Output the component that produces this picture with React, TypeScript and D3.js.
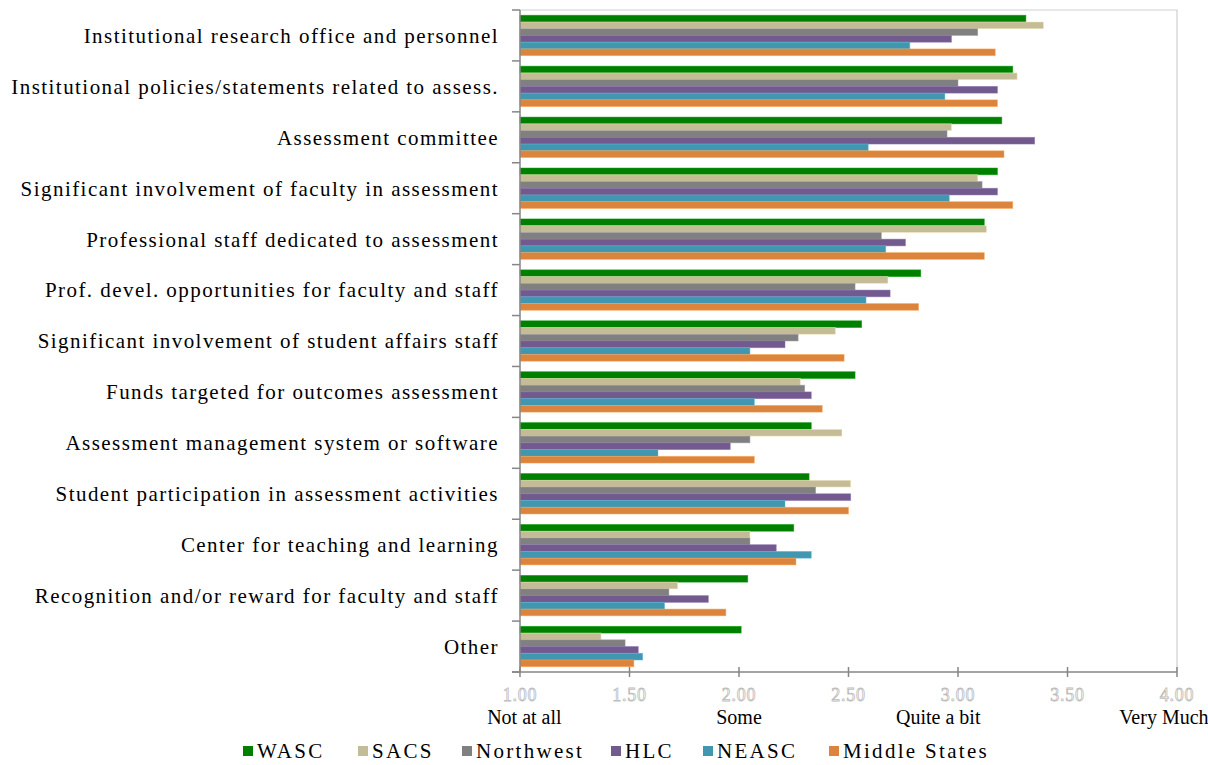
import React, { useEffect, useRef } from "react";
import * as d3 from "d3";

const categories = [
  "Institutional research office and personnel",
  "Institutional policies/statements related to assess.",
  "Assessment committee",
  "Significant involvement of faculty in assessment",
  "Professional staff dedicated to assessment",
  "Prof. devel. opportunities for faculty and staff",
  "Significant involvement of student affairs staff",
  "Funds targeted for outcomes assessment",
  "Assessment management system or software",
  "Student participation in assessment activities",
  "Center for teaching and learning",
  "Recognition and/or reward for faculty and staff",
  "Other",
];

const seriesNames = ["WASC", "SACS", "Northwest", "HLC", "NEASC", "Middle States"];
const seriesColors = ["#007F00", "#C4BC96", "#808080", "#725A8F", "#4197AF", "#DB843D"];

const wasc = [3.31, 3.25, 3.2, 3.18, 3.12, 2.83, 2.56, 2.53, 2.33, 2.32, 2.25, 2.04, 2.01];
const sacs = [3.39, 3.27, 2.97, 3.09, 3.13, 2.68, 2.44, 2.28, 2.47, 2.51, 2.05, 1.72, 1.37];
const northwest = [3.09, 3.0, 2.95, 3.11, 2.65, 2.53, 2.27, 2.3, 2.05, 2.35, 2.05, 1.68, 1.48];
const hlc = [2.97, 3.18, 3.35, 3.18, 2.76, 2.69, 2.21, 2.33, 1.96, 2.51, 2.17, 1.86, 1.54];
const neasc = [2.78, 2.94, 2.59, 2.96, 2.67, 2.58, 2.05, 2.07, 1.63, 2.21, 2.33, 1.66, 1.56];
const middleStates = [3.17, 3.18, 3.21, 3.25, 3.12, 2.82, 2.48, 2.38, 2.07, 2.5, 2.26, 1.94, 1.52];

const seriesValues = [wasc, sacs, northwest, hlc, neasc, middleStates];

const xTicks = [1.0, 1.5, 2.0, 2.5, 3.0, 3.5, 4.0];
const scaleLabels = [
  { text: "Not at all", value: 1.02 },
  { text: "Some", value: 2.0 },
  { text: "Quite a bit", value: 2.91 },
  { text: "Very Much", value: 3.94 },
];

const W = 1208;
const H = 765;
const FONT = "'Liberation Serif', 'DejaVu Serif', serif";

export default function App() {
  const ref = useRef<SVGSVGElement>(null);

  useEffect(() => {
    const svg = d3.select(ref.current);
    svg.selectAll("*").remove();

    const left = 520;
    const right = 1177;
    const top = 10;
    const bottom = 672;

    const x = d3.scaleLinear().domain([1, 4]).range([left, right]);
    const y = d3.scaleBand<string>().domain(categories).range([top, bottom]).padding(0);
    const inner = d3
      .scaleBand<string>()
      .domain(seriesNames)
      .range([0, y.bandwidth()])
      .paddingInner(0)
      .paddingOuter(0.78);

    // plot border (top and right)
    svg.append("path")
      .attr("d", `M${left},${top}H${right}V${bottom}`)
      .attr("fill", "none")
      .attr("stroke", "#CFCFCF")
      .attr("stroke-width", 1.2);

    // bars
    const g = svg.append("g");
    categories.forEach((cat, ci) => {
      seriesNames.forEach((s, si) => {
        const v = seriesValues[si][ci];
        g.append("rect")
          .attr("x", x(1))
          .attr("y", (y(cat) as number) + (inner(s) as number))
          .attr("width", x(v) - x(1))
          .attr("height", inner.bandwidth())
          .attr("fill", seriesColors[si])
          .attr("stroke", d3.color(seriesColors[si])!.brighter(0.6).formatHex())
          .attr("stroke-opacity", 0.6)
          .attr("stroke-width", 0.8);
      });
    });

    // y axis
    svg.append("line")
      .attr("x1", left).attr("x2", left)
      .attr("y1", top).attr("y2", bottom)
      .attr("stroke", "#868686").attr("stroke-width", 1.5);
    const boundaries = categories.map((c) => y(c) as number).concat([bottom]);
    boundaries.forEach((b) => {
      svg.append("line")
        .attr("x1", left - 8).attr("x2", left)
        .attr("y1", b).attr("y2", b)
        .attr("stroke", "#868686").attr("stroke-width", 1.5);
    });

    // x axis
    svg.append("line")
      .attr("x1", left - 8).attr("x2", right)
      .attr("y1", bottom).attr("y2", bottom)
      .attr("stroke", "#868686").attr("stroke-width", 1.5);
    xTicks.forEach((t) => {
      svg.append("line")
        .attr("x1", x(t)).attr("x2", x(t))
        .attr("y1", bottom - 5).attr("y2", bottom + 5)
        .attr("stroke", "#868686").attr("stroke-width", 1.5);
      svg.append("text")
        .attr("x", x(t))
        .attr("y", bottom + 29)
        .attr("text-anchor", "middle")
        .attr("font-family", FONT)
        .attr("font-size", 18)
        .attr("letter-spacing", 0.8)
        .attr("fill", "#FFFFFF")
        .attr("stroke", "#BDBDBD")
        .attr("stroke-width", 0.8)
        .text(d3.format(".2f")(t));
    });

    scaleLabels.forEach((l) => {
      svg.append("text")
        .attr("x", x(l.value))
        .attr("y", bottom + 52)
        .attr("text-anchor", "middle")
        .attr("font-family", FONT)
        .attr("font-size", 20)
        .attr("fill", "#000")
        .text(l.text);
    });

    // category labels
    categories.forEach((c) => {
      svg.append("text")
        .attr("x", 499)
        .attr("y", (y(c) as number) + y.bandwidth() / 2)
        .attr("dy", "0.35em")
        .attr("text-anchor", "end")
        .attr("font-family", FONT)
        .attr("font-size", 21)
        .attr("letter-spacing", 1.45)
        .attr("fill", "#000")
        .text(c);
    });

    // legend
    const legendItems = [
      { x: 243 }, { x: 358 }, { x: 462 }, { x: 611 }, { x: 703 }, { x: 829 },
    ];
    seriesNames.forEach((s, i) => {
      const lx = legendItems[i].x;
      svg.append("rect")
        .attr("x", lx).attr("y", 746)
        .attr("width", 10).attr("height", 10)
        .attr("fill", seriesColors[i]);
      svg.append("text")
        .attr("x", lx + 14)
        .attr("y", 751)
        .attr("dy", "0.35em")
        .attr("font-family", FONT)
        .attr("font-size", 21)
        .attr("letter-spacing", 2.3)
        .attr("fill", "#000")
        .text(s);
    });
  }, []);

  return (
    <svg
      ref={ref}
      width={W}
      height={H}
      style={{ position: "absolute", left: 0, top: 0, background: "#fff" }}
    />
  );
}
